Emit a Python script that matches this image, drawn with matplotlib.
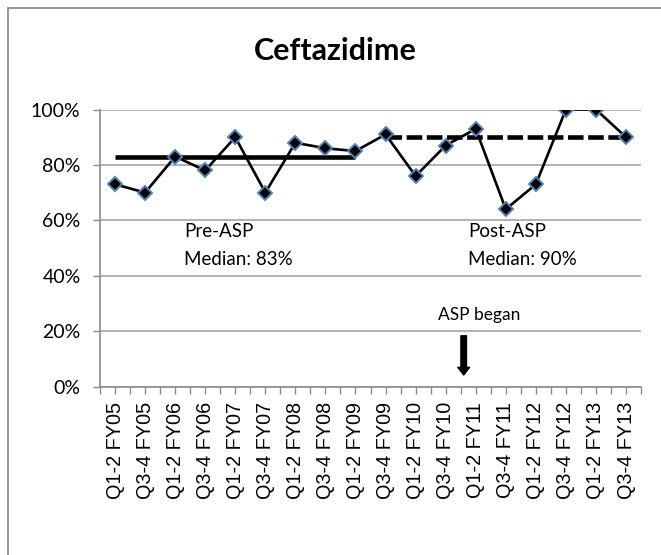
import matplotlib.pyplot as plt
from matplotlib.patches import Rectangle

# Half-year periods and ceftazidime values
periods = ["Q1-2 FY05", "Q3-4 FY05", "Q1-2 FY06", "Q3-4 FY06", "Q1-2 FY07", "Q3-4 FY07",
           "Q1-2 FY08", "Q3-4 FY08", "Q1-2 FY09", "Q3-4 FY09", "Q1-2 FY10", "Q3-4 FY10",
           "Q1-2 FY11", "Q3-4 FY11", "Q1-2 FY12", "Q3-4 FY12", "Q1-2 FY13", "Q3-4 FY13"]
values = [0.73, 0.70, 0.83, 0.78, 0.90, 0.70, 0.88, 0.86, 0.85,
          0.91, 0.76, 0.87, 0.93, 0.64, 0.73, 1.00, 1.00, 0.90]
pre_median = 0.83
post_median = 0.90
pre_end = 8        # last pre-ASP period
post_start = 9     # first post-ASP period
asp_start = 11.6   # where the program started

plt.rcParams['font.family'] = ['Lato', 'DejaVu Sans']

fig = plt.figure(figsize=(6.61, 5.55), dpi=100)
ax = fig.add_axes([0.1513, 0.3036, 0.8185, 0.4991])

x = list(range(len(periods)))

# median reference lines
ax.plot([0, pre_end], [pre_median] * 2, color="black", lw=3.3, solid_capstyle="butt", zorder=2)
dash, = ax.plot([post_start, len(periods) - 1], [post_median] * 2, color="black", lw=3.3,
                dash_capstyle="butt", zorder=2)
dash.set_dashes([3.4, 1.0])

ax.plot(x, values, color="black", lw=1.9, marker="D", markersize=7.2,
        markerfacecolor="black", markeredgecolor="#4f81bd", markeredgewidth=1.4, zorder=3)

ax.set_xlim(-0.5, len(periods) - 0.5)
ax.set_ylim(0, 1)
ax.set_yticks([0, 0.2, 0.4, 0.6, 0.8, 1.0])
ax.set_yticklabels(["0%", "20%", "40%", "60%", "80%", "100%"], fontsize=14)
ax.set_xticks(x)
ax.set_xticklabels(periods, rotation=90, fontsize=14.3, family=["Liberation Sans", "DejaVu Sans"])
ax.set_xticks([i - 0.5 for i in range(len(periods) + 1)], minor=True)

ax.grid(axis="y", color="#a6a6a6", lw=1.2)
ax.set_axisbelow(True)
for side in ["top", "right"]:
    ax.spines[side].set_visible(False)
for side in ["left", "bottom"]:
    ax.spines[side].set_color("#8c8c8c")
    ax.spines[side].set_linewidth(1.2)
ax.tick_params(axis="x", which="both", direction="out", length=5, color="#8c8c8c", width=1.0, pad=6)
ax.tick_params(axis="y", direction="out", length=5, color="#8c8c8c", width=1.0, pad=9)

ax.text(2.3, 0.541, "Pre-ASP", fontsize=13.5)
ax.text(2.3, 0.439, "Median: 83%", fontsize=13.5)
ax.text(11.75, 0.541, "Post-ASP", fontsize=13.5)
ax.text(11.75, 0.439, "Median: 90%", fontsize=13.5)
ax.text(12.11, 0.24, "ASP began", fontsize=12.5, ha="center")
ax.annotate("", xy=(asp_start, 0.0415), xytext=(asp_start, 0.183),
            arrowprops=dict(arrowstyle="simple,head_length=0.55,head_width=0.85,tail_width=0.4",
                            color="black", shrinkA=0, shrinkB=0))

fig.text(0.508, 0.892, "Ceftazidime", fontsize=22, fontweight="bold", ha="center", va="baseline")

# chart frame
fig.patches.append(Rectangle((8 / 661, -0.1), 1.2, (555 - 8) / 555 + 0.1, transform=fig.transFigure,
                             fill=False, edgecolor="#8c8c8c", lw=1.3))

fig.savefig("out.png", dpi=100)
